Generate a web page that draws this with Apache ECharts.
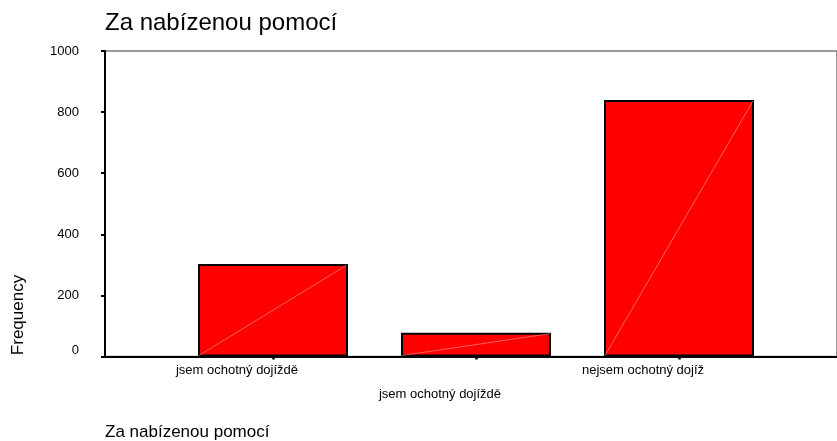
<!DOCTYPE html>
<html>
<head>
<meta charset="utf-8">
<script src="https://cdn.jsdelivr.net/npm/echarts@6/dist/echarts.min.js"></script>
<style>
html,body{margin:0;padding:0;background:#fff;}
#chart{width:837px;height:441px;}
</style>
</head>
<body>
<div id="chart"></div>
<script>
const titleText = 'Za nabízenou pomocí';
const categories = ['jsem ochotný dojíždě', 'jsem ochotný dojíždě', 'nejsem ochotný dojíž'];
const frequencies = [303, 78, 840];
const yTicks = [0, 200, 400, 600, 800, 1000];
const yAxisName = 'Frequency';
const xAxisTitle = 'Za nabízenou pomocí';

const FONT = "'Liberation Sans', Arial, sans-serif";
const chart = echarts.init(document.getElementById('chart'), null, {renderer: 'canvas'});

const option = {
  backgroundColor: '#fff',
  animation: false,
  title: {
    text: titleText,
    left: 100,
    top: 6,
    textStyle: {fontFamily: FONT, fontSize: 24, fontWeight: 'normal', color: '#000'}
  },
  grid: [
    {left: 171.5, right: 56.5, top: 51, bottom: 84.5, containLabel: false},
    {left: 105, right: -10, top: 51, bottom: 84.5, containLabel: false,
     show: true, borderColor: '#7a7a7a', borderWidth: 1.5, backgroundColor: 'transparent'}
  ],
  xAxis: [
    {
      type: 'category', gridIndex: 0, data: categories,
      axisLine: {show: false},
      axisTick: {show: true, alignWithLabel: true, length: 3, lineStyle: {color: '#000', width: 2.5}},
      axisLabel: {
        interval: 0, margin: 2, fontFamily: FONT, fontSize: 13, color: '#000',
        lineHeight: 24, padding: [0, 72, 0, 0],
        formatter: function (v, i) { return i % 2 === 1 ? '\n' + v : v; }
      },
      splitLine: {show: false}
    },
    {
      type: 'value', gridIndex: 1, min: 0, max: 1,
      axisLine: {show: true, onZero: false, lineStyle: {color: '#000', width: 2}},
      axisTick: {show: false}, axisLabel: {show: false}, splitLine: {show: false}
    }
  ],
  yAxis: [
    {type: 'value', gridIndex: 0, min: yTicks[0], max: yTicks[yTicks.length - 1], interval: 200, show: false, splitLine: {show: false}},
    {
      type: 'value', gridIndex: 1, min: yTicks[0], max: yTicks[yTicks.length - 1], interval: 200,
      axisLine: {show: true, lineStyle: {color: '#000', width: 2}},
      axisTick: {show: true, length: 4, lineStyle: {color: '#000', width: 2}},
      axisLabel: {
        margin: 26, fontFamily: FONT, fontSize: 13, color: '#000',
        formatter: function (v) { return v === 0 ? '{z|0}' : String(v); },
        rich: {z: {fontFamily: FONT, fontSize: 13, color: '#000', padding: [0, 0, 12, 0]}}
      },
      splitLine: {show: false}
    }
  ],
  series: [
    {
      type: 'bar', xAxisIndex: 0, yAxisIndex: 0, data: frequencies,
      barWidth: 150,
      itemStyle: {color: '#ff0000', borderColor: '#000', borderWidth: 2},
      z: 3
    },
    {
      type: 'custom', xAxisIndex: 0, yAxisIndex: 0, data: frequencies,
      z: 4, silent: true,
      renderItem: function (params, api) {
        const top = api.coord([api.value(0), api.value(1)]);
        const base = api.coord([api.value(0), 0]);
        const hw = 74;
        return {
          type: 'line',
          shape: {x1: base[0] - hw, y1: base[1] - 1, x2: top[0] + hw, y2: top[1] + 1},
          style: {stroke: 'rgba(255,170,170,0.55)', lineWidth: 1}
        };
      }
    }
  ],
  graphic: [
    {
      type: 'text', x: 18, y: 315, rotation: Math.PI / 2,
      style: {text: yAxisName, font: "17px 'Liberation Sans', Arial, sans-serif", fill: '#000', align: 'center', verticalAlign: 'middle'}
    },
    {
      type: 'text', left: 105, top: 424,
      style: {text: xAxisTitle, font: "17px 'Liberation Sans', Arial, sans-serif", fill: '#000'}
    }
  ]
};
chart.setOption(option);
</script>
</body>
</html>
